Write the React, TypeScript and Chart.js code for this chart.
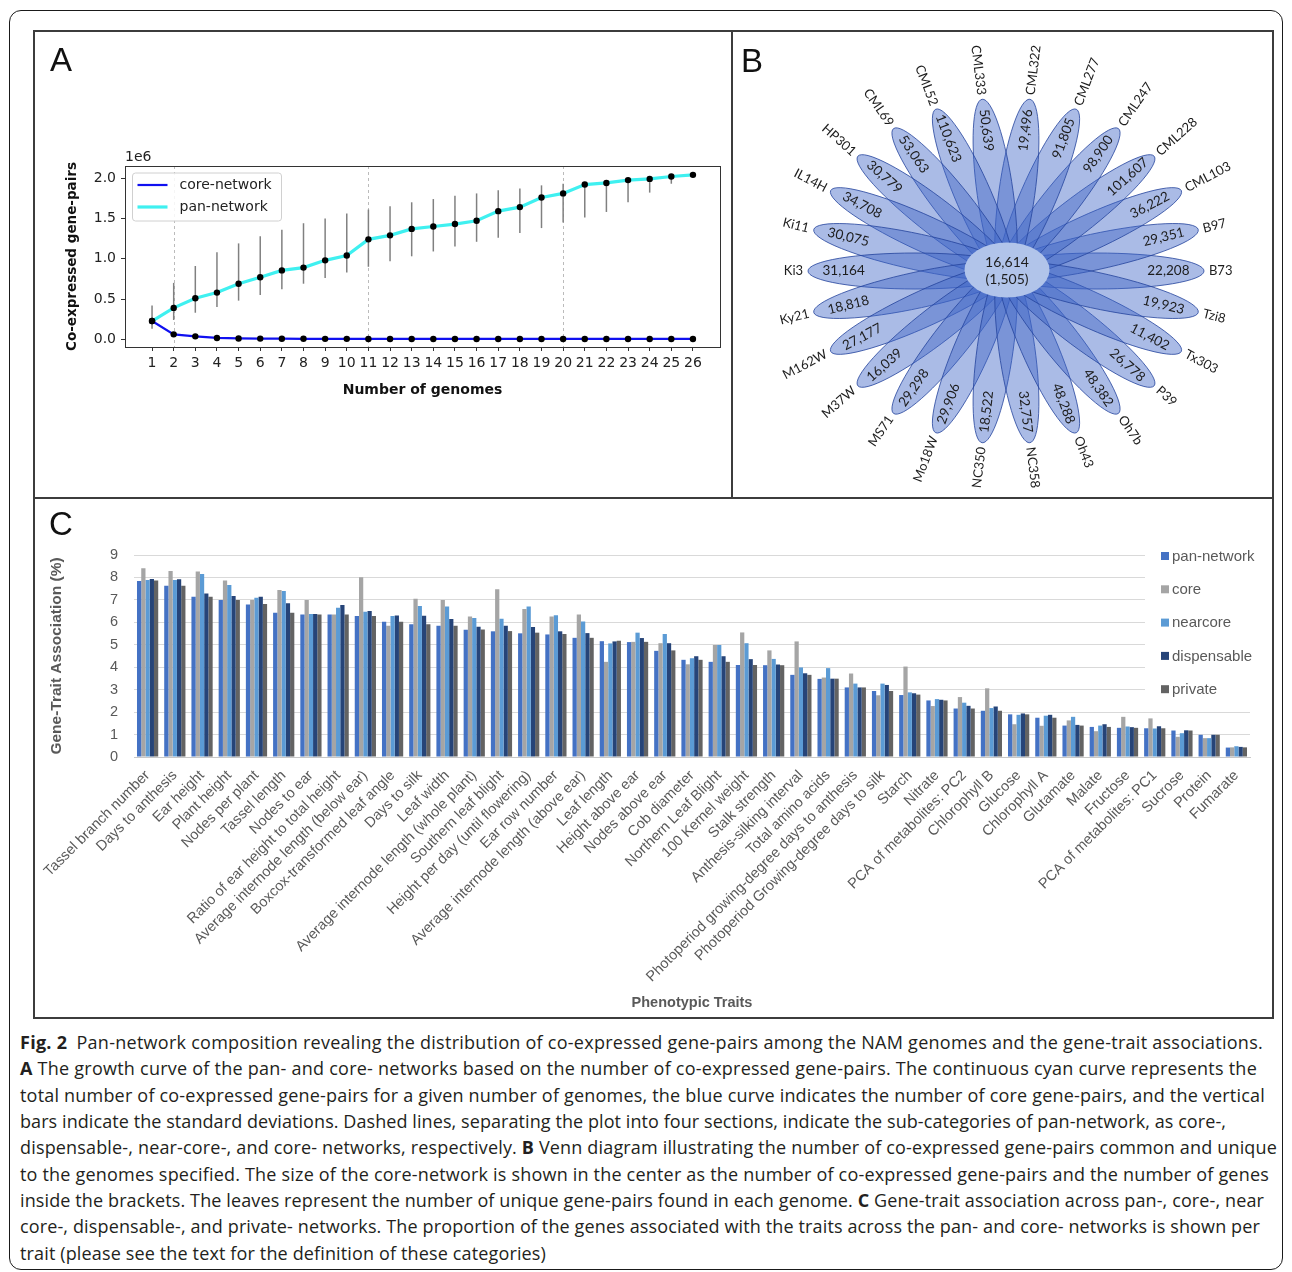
import React, { useEffect, useLayoutEffect, useRef } from 'react';
import { Chart, registerables } from 'chart.js';
Chart.register(...registerables);

// ---------- Panel A data ----------
const genomeCounts = [1,2,3,4,5,6,7,8,9,10,11,12,13,14,15,16,17,18,19,20,21,22,23,24,25,26];
const panValues = [0.227,0.39,0.51,0.58,0.69,0.77,0.855,0.89,0.98,1.04,1.24,1.29,1.37,1.40,1.43,1.47,1.59,1.64,1.76,1.81,1.92,1.94,1.975,1.99,2.02,2.04];
const panUpper = [0.42,0.70,0.91,1.08,1.19,1.28,1.36,1.44,1.50,1.56,1.61,1.65,1.70,1.74,1.78,1.81,1.85,1.87,1.91,1.93,1.95,1.97,2.00,2.01,2.03,2.045];
const panLower = [0.13,0.24,0.33,0.40,0.48,0.55,0.62,0.69,0.76,0.83,0.90,0.97,1.03,1.09,1.15,1.21,1.26,1.32,1.38,1.45,1.51,1.58,1.70,1.82,1.93,2.035];
const coreValues = [0.227,0.062,0.037,0.017,0.011,0.009,0.008,0.007,0.006,0.006,0.005,0.005,0.005,0.005,0.005,0.005,0.005,0.005,0.005,0.005,0.005,0.005,0.005,0.005,0.005,0.005];
const sectionBreaks = [2, 11, 20];
const yTicksA = [0, 0.5, 1.0, 1.5, 2.0];
const SCALE_A = 1e6;

// ---------- Panel B data ----------
const genomeNames = ['B73','B97','CML103','CML228','CML247','CML277','CML322','CML333','CML52','CML69','HP301','IL14H','Ki11','Ki3','Ky21','M162W','M37W','MS71','Mo18W','NC350','NC358','Oh43','Oh7b','P39','Tx303','Tzi8'];
const uniquePairs = [22208,29351,36222,101607,98900,91805,19496,50639,110623,53063,30779,34708,30075,31164,18818,27177,16039,29298,29906,18522,32757,48288,48382,26778,11402,19923];
const coreNetworkPairs = 16614;
const coreNetworkGenes = 1505;

// ---------- Panel C data ----------
const traits = ['Tassel branch number','Days to anthesis','Ear height','Plant height','Nodes per plant','Tassel length','Nodes to ear','Ratio of ear height to total height','Average internode length (below ear)','Boxcox-transformed leaf angle','Days to silk','Leaf width','Average internode length (whole plant)','Southern leaf blight','Height per day (until flowering)','Ear row number','Average internode length (above ear)','Leaf length','Height above ear','Nodes above ear','Cob diameter','Northern Leaf Blight','100 Kernel weight','Stalk strength','Anthesis-silking interval','Total amino acids','Photoperiod growing-degree days to anthesis','Photoperiod Growing-degree days to silk','Starch','Nitrate','PCA of metabolites: PC2','Chlorophyll B','Glucose','Chlorophyll A','Glutamate','Malate','Fructose','PCA of metabolites: PC1','Sucrose','Protein','Fumarate'];
const panNetwork = [7.84,7.63,7.14,6.99,6.80,6.43,6.35,6.35,6.28,6.03,5.92,5.85,5.67,5.60,5.51,5.46,5.31,5.16,5.12,4.73,4.33,4.24,4.10,4.09,3.66,3.48,3.10,2.94,2.76,2.52,2.16,2.06,1.90,1.75,1.40,1.34,1.30,1.28,1.18,0.99,0.42];
const coreNet = [8.41,8.29,8.26,7.86,6.99,7.44,6.99,6.35,8.01,5.85,7.05,6.99,6.26,7.47,6.59,6.26,6.35,4.24,5.13,5.07,4.13,4.99,5.55,4.75,5.15,3.54,3.72,2.75,4.03,2.27,2.67,3.06,1.46,1.39,1.63,1.15,1.79,1.72,0.90,0.84,0.43];
const nearcoreNet = [7.89,7.89,8.15,7.66,7.10,7.40,6.37,6.65,6.47,6.28,6.73,6.70,6.19,6.16,6.70,6.32,6.04,5.06,5.54,5.48,4.40,4.99,5.07,4.37,3.99,3.96,3.27,3.27,2.88,2.58,2.42,2.18,1.88,1.84,1.79,1.40,1.36,1.27,1.06,0.84,0.48];
const dispensableNet = [7.93,7.92,7.28,7.17,7.14,6.85,6.37,6.77,6.50,6.31,6.29,6.15,5.80,5.85,5.79,5.60,5.52,5.15,5.30,5.07,4.49,4.49,4.36,4.12,3.73,3.49,3.10,3.21,2.84,2.55,2.28,2.25,1.94,1.88,1.43,1.46,1.33,1.37,1.19,0.99,0.45];
const privateNet = [7.86,7.63,7.14,6.99,6.82,6.43,6.35,6.35,6.28,6.03,5.92,5.85,5.68,5.61,5.54,5.48,5.31,5.18,5.13,4.75,4.33,4.24,4.10,4.09,3.66,3.49,3.10,2.94,2.78,2.52,2.16,2.06,1.90,1.75,1.40,1.34,1.30,1.28,1.18,0.99,0.43];
const seriesNames = ['pan-network','core','nearcore','dispensable','private'];
const seriesColors = ['#4472C4','#A5A5A5','#5B9BD5','#264478','#636363'];

// ---------- Caption ----------
const captionLines: Array<Array<[string, boolean]>> = [
  [['Fig. 2', true], ['\u2002Pan-network composition revealing the distribution of co-expressed gene-pairs among the NAM genomes and the gene-trait associations.', false]],
  [['A', true], [' The growth curve of the pan- and core- networks based on the number of co-expressed gene-pairs. The continuous cyan curve represents the', false]],
  [['total number of co-expressed gene-pairs for a given number of genomes, the blue curve indicates the number of core gene-pairs, and the vertical', false]],
  [['bars indicate the standard deviations. Dashed lines, separating the plot into four sections, indicate the sub-categories of pan-network, as core-,', false]],
  [['dispensable-, near-core-, and core- networks, respectively. ', false], ['B', true], [' Venn diagram illustrating the number of co-expressed gene-pairs common and unique', false]],
  [['to the genomes specified. The size of the core-network is shown in the center as the number of co-expressed gene-pairs and the number of genes', false]],
  [['inside the brackets. The leaves represent the number of unique gene-pairs found in each genome. ', false], ['C', true], [' Gene-trait association across pan-, core-, near', false]],
  [['core-, dispensable-, and private- networks. The proportion of the genes associated with the traits across the pan- and core- networks is shown per', false]],
  [['trait (please see the text for the definition of these categories)', false]],
];
const captionRight = [1263, 1257, 1265, 1226, 1277, 1269, 1264, 1260, 546];

const FA = 'DejaVu Sans';
const FC = 'Liberation Sans, Arial, sans-serif';

function makeChartA(canvas: HTMLCanvasElement) {
  const plugin = {
    id: 'panelA',
    beforeDatasetsDraw(chart: any) {
      const { ctx, chartArea } = chart;
      const xs = chart.scales.x, ys = chart.scales.y;
      ctx.save();
      ctx.strokeStyle = '#b4b4b4';
      ctx.lineWidth = 0.9;
      ctx.setLineDash([3, 3]);
      sectionBreaks.forEach((b) => {
        const x = Math.round(xs.getPixelForValue(b)) + 0.5;
        ctx.beginPath(); ctx.moveTo(x, chartArea.top); ctx.lineTo(x, chartArea.bottom); ctx.stroke();
      });
      ctx.setLineDash([]);
      ctx.strokeStyle = '#808080';
      ctx.lineWidth = 1.5;
      genomeCounts.forEach((g, i) => {
        const x = xs.getPixelForValue(g);
        ctx.beginPath();
        ctx.moveTo(x, ys.getPixelForValue(panUpper[i] * SCALE_A));
        ctx.lineTo(x, ys.getPixelForValue(panLower[i] * SCALE_A));
        ctx.stroke();
      });
      ctx.restore();
    },
    afterDraw(chart: any) {
      const { ctx, chartArea } = chart;
      ctx.save();
      ctx.strokeStyle = '#333';
      ctx.lineWidth = 1;
      ctx.strokeRect(Math.round(chartArea.left) + 0.5, Math.round(chartArea.top) + 0.5, Math.round(chartArea.right - chartArea.left), Math.round(chartArea.bottom - chartArea.top));
      ctx.fillStyle = '#222';
      ctx.font = `14px ${FA}`;
      ctx.textBaseline = 'middle';
      ctx.textAlign = 'left';
      ctx.fillText('1e6', chartArea.left, chartArea.top - 9);
      // legend
      const lx = chartArea.left + 7.5, ly = chartArea.top + 7, lw = 149, lh = 48;
      ctx.beginPath();
      (ctx as any).roundRect(lx, ly, lw, lh, 3);
      ctx.fillStyle = 'rgba(255,255,255,0.85)';
      ctx.fill();
      ctx.strokeStyle = '#d0d0d0';
      ctx.lineWidth = 1;
      ctx.stroke();
      const items = chart.data.datasets;
      items.forEach((ds: any, k: number) => {
        const y = ly + 12 + k * 22;
        ctx.strokeStyle = ds.borderColor;
        ctx.lineWidth = ds.borderWidth;
        ctx.beginPath(); ctx.moveTo(lx + 5, y); ctx.lineTo(lx + 35, y); ctx.stroke();
        ctx.fillStyle = '#222';
        ctx.font = `14px ${FA}`;
        ctx.fillText(ds.label, lx + 47, y);
      });
      ctx.restore();
    },
  };
  return new Chart(canvas, {
    type: 'line',
    data: {
      datasets: [
        {
          label: 'core-network',
          data: genomeCounts.map((g, i) => ({ x: g, y: coreValues[i] * SCALE_A })),
          borderColor: '#1010f0', borderWidth: 2.2, tension: 0,
          pointRadius: 3.2, pointBackgroundColor: '#000', pointBorderColor: '#000', pointBorderWidth: 0,
        },
        {
          label: 'pan-network',
          data: genomeCounts.map((g, i) => ({ x: g, y: panValues[i] * SCALE_A })),
          borderColor: '#3ff0f0', borderWidth: 3.2, tension: 0,
          pointRadius: 3.2, pointBackgroundColor: '#000', pointBorderColor: '#000', pointBorderWidth: 0,
        },
      ],
    } as any,
    options: {
      animation: false, responsive: false, maintainAspectRatio: false,
      layout: { padding: { left: 0, top: 134, right: 11, bottom: 98 } },
      scales: {
        x: {
          type: 'linear', min: -0.25, max: 27.25,
          afterBuildTicks: (s: any) => { s.ticks = genomeCounts.map((v) => ({ value: v })); },
          afterFit: (s: any) => { s.height = 52; },
          ticks: { autoSkip: false, maxRotation: 0, minRotation: 0, padding: 3.5, color: '#222', font: { family: FA, size: 14 }, callback: (v: any) => String(v) },
          grid: { drawOnChartArea: false, drawTicks: true, tickLength: 4, color: '#333' },
          border: { color: '#333', width: 1 },
          title: { display: true, text: 'Number of genomes', color: '#111', font: { family: FA, size: 14, weight: 'bold' }, padding: { top: 0, bottom: 0.6 } },
        },
        y: {
          type: 'linear', min: -0.095 * SCALE_A, max: 2.15 * SCALE_A,
          afterBuildTicks: (s: any) => { s.ticks = yTicksA.map((v) => ({ value: v * SCALE_A })); },
          afterFit: (s: any) => { s.width = 90; },
          ticks: { padding: 5, color: '#222', font: { family: FA, size: 14 }, callback: (v: any) => (v / SCALE_A).toFixed(1) },
          grid: { drawOnChartArea: false, drawTicks: true, tickLength: 4, color: '#333' },
          border: { color: '#333', width: 1 },
          title: { display: true, text: 'Co-expressed gene-pairs', color: '#111', font: { family: FA, size: 13.5, weight: 'bold' }, padding: { top: 29, bottom: 0 } },
        },
      },
      plugins: { legend: { display: false }, tooltip: { enabled: false } },
    } as any,
    plugins: [plugin],
  });
}

const FLOWER_CX = 272;
const FLOWER_CY = 239;
const REACH_X = 198;
const REACH_Y = 173;

function makeChartB(canvas: HTMLCanvasElement) {
  const n = genomeNames.length;
  const angles = genomeNames.map((_, i) => (i * 2 * Math.PI) / n);
  const fmt = (v: number) => v.toLocaleString('en-US');
  const plugin = {
    id: 'flower',
    beforeDatasetsDraw(chart: any) {
      const { ctx } = chart;
      const xs = chart.scales.x, ys = chart.scales.y;
      const cx = xs.getPixelForValue(0), cy = ys.getPixelForValue(0);
      const meta = chart.getDatasetMeta(0);
      ctx.save();
      meta.data.forEach((pt: any) => {
        const dx = pt.x - cx, dy = pt.y - cy;
        const L = Math.hypot(dx, dy);
        const ux = dx / L, uy = dy / L;
        const e = 16;
        const mx = (cx - e * ux + pt.x) / 2, my = (cy - e * uy + pt.y) / 2;
        ctx.beginPath();
        ctx.ellipse(mx, my, (L + e) / 2, 18, Math.atan2(uy, ux), 0, Math.PI * 2);
        ctx.fillStyle = 'rgba(62,100,198,0.44)';
        ctx.fill();
        ctx.strokeStyle = 'rgba(36,68,156,0.8)';
        ctx.lineWidth = 1;
        ctx.stroke();
      });
      // center ellipse
      ctx.beginPath();
      ctx.ellipse(cx + 1, cy - 1, 42.5, 27.5, 0, 0, Math.PI * 2);
      ctx.fillStyle = '#b1c4ea';
      ctx.fill();
      ctx.fillStyle = '#1d1d1d';
      ctx.font = '14px Lato';
      ctx.textAlign = 'center';
      ctx.textBaseline = 'middle';
      ctx.fillText(fmt(coreNetworkPairs), cx + 1, cy - 9);
      ctx.fillText(`(${fmt(coreNetworkGenes)})`, cx + 1, cy + 8);
      // labels
      angles.forEach((th, i) => {
        const right = Math.cos(th) >= 0;
        const rot = right ? -th : Math.PI - th;
        const vx = xs.getPixelForValue(0.82 * Math.cos(th)), vy = ys.getPixelForValue(0.82 * Math.sin(th));
        ctx.save();
        ctx.translate(vx, vy); ctx.rotate(rot);
        ctx.textAlign = 'center'; ctx.fillStyle = '#1d1d1d'; ctx.font = '13.5px Lato';
        ctx.fillText(fmt(uniquePairs[i]), 0, 0);
        ctx.restore();
        const nx = xs.getPixelForValue(1.025 * Math.cos(th)), ny = ys.getPixelForValue(1.025 * Math.sin(th));
        ctx.save();
        ctx.translate(nx, ny); ctx.rotate(rot);
        ctx.textAlign = right ? 'left' : 'right'; ctx.fillStyle = '#1d1d1d'; ctx.font = '13px Lato';
        ctx.fillText(genomeNames[i], 0, 0);
        ctx.restore();
      });
      ctx.restore();
    },
  };
  return new Chart(canvas, {
    type: 'scatter',
    data: {
      datasets: [{ label: 'petal tips', data: angles.map((th) => ({ x: Math.cos(th), y: Math.sin(th) })), pointRadius: 0, pointHoverRadius: 0 }],
    },
    options: {
      animation: false, responsive: false, maintainAspectRatio: false,
      layout: { padding: 0 },
      scales: {
        x: { type: 'linear', display: false, min: -FLOWER_CX / REACH_X, max: (537 - FLOWER_CX) / REACH_X },
        y: { type: 'linear', display: false, min: -(465 - FLOWER_CY) / REACH_Y, max: FLOWER_CY / REACH_Y },
      },
      plugins: { legend: { display: false }, tooltip: { enabled: false } },
    } as any,
    plugins: [plugin],
  });
}

function makeChartC(canvas: HTMLCanvasElement) {
  const seriesData = [panNetwork, coreNet, nearcoreNet, dispensableNet, privateNet];
  const legendPlugin = {
    id: 'legendC',
    afterDraw(chart: any) {
      const { ctx } = chart;
      ctx.save();
      ctx.fillStyle = '#fff';
      ctx.fillRect(1110, 38, 126, 162);
      ctx.font = `15px ${FC}`;
      ctx.textBaseline = 'middle';
      ctx.textAlign = 'left';
      chart.data.datasets.forEach((ds: any, k: number) => {
        const y = 56 + k * 33.3;
        ctx.fillStyle = ds.backgroundColor;
        ctx.fillRect(1126, y - 4, 8, 8);
        ctx.fillStyle = '#595959';
        ctx.fillText(ds.label, 1137, y + 0.5);
      });
      ctx.restore();
    },
  };
  return new Chart(canvas, {
    type: 'bar',
    data: {
      labels: traits,
      datasets: seriesNames.map((name, k) => ({
        label: name, data: seriesData[k], backgroundColor: seriesColors[k], borderWidth: 0,
        categoryPercentage: 0.78, barPercentage: 1.0,
      })),
    },
    options: {
      animation: false, responsive: false, maintainAspectRatio: false,
      layout: { padding: { left: 0, top: 55, right: 21, bottom: 0 } },
      scales: {
        x: {
          afterFit: (s: any) => { s.height = 259; },
          ticks: { autoSkip: false, maxRotation: 45, minRotation: 45, padding: 10, color: '#595959', font: { family: FC, size: 14.5 } },
          grid: { display: false, drawTicks: false },
          border: { display: true, color: '#c8c8c8', width: 1 },
          title: { display: true, text: 'Phenotypic Traits', color: '#595959', font: { family: FC, size: 14.5, weight: 'bold' }, padding: { top: 0, bottom: 4.3 } },
        },
        y: {
          min: 0, max: 9,
          afterFit: (s: any) => { s.width = 99; },
          ticks: { stepSize: 1, padding: 16, color: '#595959', font: { family: FC, size: 14.5 } },
          grid: { color: '#d9d9d9', drawTicks: false, lineWidth: 1 },
          border: { display: false },
          title: { display: true, text: 'Gene-Trait Association (%)', color: '#595959', font: { family: FC, size: 15.5, weight: 'bold' }, padding: { top: 12.7, bottom: 0 } },
        },
      },
      plugins: { legend: { display: false }, tooltip: { enabled: false } },
    } as any,
    plugins: [legendPlugin],
  });
}

function ChartCanvas({ make, left, top, width, height }: any) {
  const ref = useRef<HTMLCanvasElement>(null);
  useEffect(() => {
    if (!ref.current) return;
    const c = make(ref.current);
    return () => c.destroy();
  }, [make]);
  return <canvas ref={ref} width={width} height={height} style={{ position: 'absolute', left, top, width, height }} />;
}

function Caption() {
  const refs = useRef<Array<HTMLDivElement | null>>([]);
  useLayoutEffect(() => {
    refs.current.forEach((el, i) => {
      if (!el) return;
      el.style.letterSpacing = '0px';
      const w = el.getBoundingClientRect().width;
      const target = captionRight[i] - 20;
      const chars = (el.textContent || '').length;
      const adj = (target - w) / chars;
      if (Math.abs(adj) < 1.5) el.style.letterSpacing = `${adj}px`;
    });
  }, []);
  return (
    <>
      {captionLines.map((line, i) => (
        <div
          key={i}
          ref={(el) => { refs.current[i] = el; }}
          style={{ position: 'absolute', left: 20, top: 1029 + i * 26.35, whiteSpace: 'nowrap', font: '18px "Open Sans", sans-serif', lineHeight: '26px', color: '#231f20', display: 'inline-block' }}
        >
          {line.map(([t, b], j) => (
            <span key={j} style={{ fontWeight: b ? 700 : 400 }}>{t}</span>
          ))}
        </div>
      ))}
    </>
  );
}

export default function App() {
  const letter = { position: 'absolute' as const, font: `33px ${FC}`, lineHeight: '33px', color: '#111' };
  return (
    <div style={{ position: 'absolute', left: 0, top: 0, width: 1292, height: 1272, background: '#fff', overflow: 'hidden' }}>
      <div style={{ position: 'absolute', left: 9, top: 10, width: 1274, height: 1260, border: '1.5px solid #1a1a1a', borderRadius: 12, boxSizing: 'border-box' }} />
      <div style={{ position: 'absolute', left: 33, top: 30, width: 700, height: 469, border: '2px solid #3c3c3c', boxSizing: 'border-box' }} />
      <div style={{ position: 'absolute', left: 731, top: 30, width: 543, height: 469, border: '2px solid #3c3c3c', boxSizing: 'border-box' }} />
      <div style={{ position: 'absolute', left: 33, top: 497, width: 1241, height: 522, border: '2px solid #3c3c3c', boxSizing: 'border-box' }} />
      <ChartCanvas make={makeChartA} left={35} top={32} width={696} height={465} />
      <ChartCanvas make={makeChartB} left={734} top={32} width={537} height={465} />
      <ChartCanvas make={makeChartC} left={35} top={500} width={1236} height={516} />
      <div style={{ ...letter, left: 50, top: 43 }}>A</div>
      <div style={{ ...letter, left: 741, top: 44 }}>B</div>
      <div style={{ ...letter, left: 49, top: 507 }}>C</div>
      <Caption />
    </div>
  );
}
